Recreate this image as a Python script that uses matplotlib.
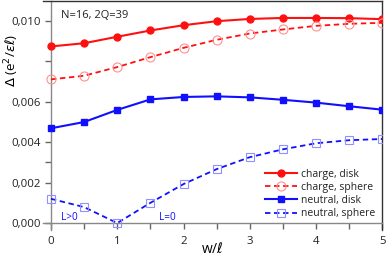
import matplotlib
matplotlib.use("Agg")
import matplotlib.pyplot as plt
from matplotlib.ticker import FixedLocator, FuncFormatter

plt.rcParams['font.family'] = ['Open Sans', 'DejaVu Sans']
plt.rcParams['mathtext.fontset'] = 'dejavusans'

w = [0, 0.5, 1, 1.5, 2, 2.5, 3, 3.5, 4, 4.5, 5]
charge_disk = [0.00874, 0.00890, 0.00922, 0.00953, 0.00979, 0.00999, 0.01010, 0.01015, 0.01015, 0.01014, 0.01009]
charge_sphere = [0.00711, 0.00729, 0.00772, 0.00821, 0.00867, 0.00907, 0.00938, 0.00958, 0.00976, 0.00986, 0.00991]
neutral_disk = [0.00469, 0.00500, 0.00560, 0.00612, 0.00624, 0.00627, 0.00622, 0.00610, 0.00596, 0.00578, 0.00561]
neutral_sphere = [0.00120, 0.00079, 0.00000, 0.00100, 0.00193, 0.00267, 0.00326, 0.00365, 0.00395, 0.00410, 0.00416]

ytick_major = [0.000, 0.002, 0.004, 0.006, 0.010]
ytick_minor = [0.003, 0.008]

fig = plt.figure(figsize=(3.91, 2.58), dpi=100)
ax = fig.add_axes([0.110, 0.108, 0.868, 0.889])

red = '#ff1010'
blue = '#1010ff'
ax.plot(w, charge_disk, '-', color=red, lw=1.5, marker='o', ms=5, mfc=red, mec=red, label='charge, disk', zorder=3)
ax.plot(w, charge_sphere, '--', color=red, lw=1.3, dashes=(3, 2), marker='o', ms=6.5, mfc='none', mec='#ff9090', mew=0.8, label='charge, sphere', zorder=3)
ax.plot(w, neutral_disk, '-', color=blue, lw=1.5, marker='s', ms=5, mfc=blue, mec=blue, label='neutral, disk', zorder=3)
ax.plot(w, neutral_sphere, '--', color=blue, lw=1.3, dashes=(3, 2), marker='s', ms=5.5, mfc='none', mec='#9090ff', mew=0.8, label='neutral, sphere', zorder=3)

ax.set_xlim(-0.12, 5)
ax.set_ylim(-0.00035, 0.011)
ax.spines['left'].set_position(('data', 0))
ax.spines['bottom'].set_position(('data', 0))
ax.spines['left'].set_bounds(-0.00035, 0.011)
ax.spines['bottom'].set_bounds(-0.12, 5)
for s in ['left', 'bottom']:
    ax.spines[s].set_color('#888888')
    ax.spines[s].set_linewidth(1.0)
for s in ['right', 'top']:
    ax.spines[s].set_color('#333333')
    ax.spines[s].set_linewidth(1.0)

ax.xaxis.set_major_locator(FixedLocator([0, 1, 2, 3, 4, 5]))
ax.xaxis.set_minor_locator(FixedLocator([0.5, 1.5, 2.5, 3.5, 4.5]))
ax.yaxis.set_major_locator(FixedLocator(ytick_major))
ax.yaxis.set_minor_locator(FixedLocator(ytick_minor))
ax.yaxis.set_major_formatter(FuncFormatter(lambda v, p: f"{v:.3f}".replace('.', ',')))
ax.tick_params(axis='both', which='both', direction='out', color='#666666', labelsize=8.2, labelcolor='#222222')
ax.tick_params(axis='both', which='major', length=4, width=1)
ax.tick_params(axis='both', which='minor', length=4, width=1)
ax.tick_params(axis='x', pad=5)
ax.tick_params(axis='y', pad=3)

ax.set_xlabel(r'w/$\ell$', fontsize=10)
ax.xaxis.set_label_coords(0.5, -0.05)
ax.set_ylabel(r'$\Delta$ (e$^2$/$\varepsilon\ell$)', fontsize=9.5, va='center')
ax.yaxis.set_label_coords(-0.092, 0.74)

ax.text(0.15, 0.01029, 'N=16, 2Q=39', fontsize=8, color='#222222', va='center', ha='left')
ax.text(0.28, 0.00028, 'L>0', fontsize=7.2, color=blue, ha='center', va='center')
ax.text(1.75, 0.00028, 'L=0', fontsize=7.2, color=blue, ha='center', va='center')

leg = ax.legend(loc='lower right', bbox_to_anchor=(1.0, 0.015), frameon=False, fontsize=7.5,
                handlelength=3.0, handletextpad=0.4, labelspacing=0.22, borderpad=0.2)
for t in leg.get_texts():
    t.set_color('#222222')

fig.savefig('out.png', dpi=100)
